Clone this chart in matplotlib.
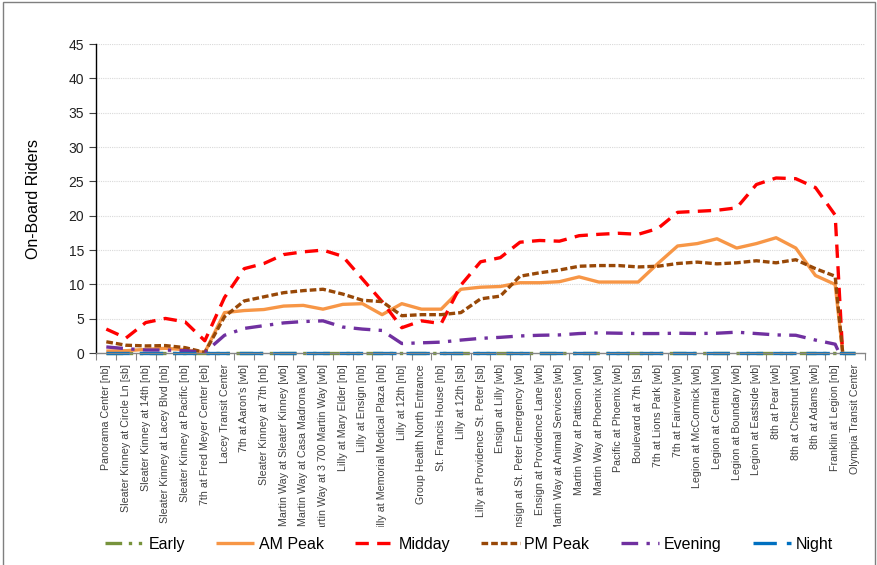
"""On-board riders by stop, one line per time period."""

import matplotlib

matplotlib.use("Agg")
import matplotlib.pyplot as plt
from matplotlib.patches import Rectangle
from matplotlib.transforms import Bbox, TransformedBbox

plt.rcParams["font.family"] = ["Liberation Sans", "DejaVu Sans"]

STOPS = [
    "Panorama Center [nb]",
    "Sleater Kinney at Circle Ln [sb]",
    "Sleater Kinney at 14th [nb]",
    "Sleater Kinney at Lacey Blvd [nb]",
    "Sleater Kinney at Pacific [nb]",
    "7th at Fred Meyer Center [eb]",
    "Lacey Transit Center",
    "7th at Aaron's [wb]",
    "Sleater Kinney at 7th [nb]",
    "Martin Way at Sleater Kinney [wb]",
    "Martin Way at Casa Madrona [wb]",
    "Martin Way at 3 700 Martin Way [wb]",
    "Lilly at Mary Elder [nb]",
    "Lilly at Ensign [nb]",
    "Lilly at Memorial Medical Plaza [nb]",
    "Lilly at 12th [nb]",
    "Group Health North Entrance",
    "St. Francis House [nb]",
    "Lilly at 12th [sb]",
    "Lilly at Providence St. Peter [sb]",
    "Ensign at Lilly [wb]",
    "Ensign at St. Peter Emergency [wb]",
    "Ensign at Providence Lane [wb]",
    "Martin Way at Animal Services [wb]",
    "Martin Way at Pattison [wb]",
    "Martin Way at Phoenix [wb]",
    "Pacific at Phoenix [wb]",
    "Boulevard at 7th [sb]",
    "7th at Lions Park [wb]",
    "7th at Fairview [wb]",
    "Legion at McCormick [wb]",
    "Legion at Central [wb]",
    "Legion at Boundary [wb]",
    "Legion at Eastside [wb]",
    "8th at Pear [wb]",
    "8th at Chestnut [wb]",
    "8th at Adams [wb]",
    "Franklin at Legion [nb]",
    "Olympia Transit Center",
]

# Olympia values fall below the axis (the lines hit zero before the last stop)
early = [0.0] * 39
am_peak = [0.3, 0.35, 0.55, 0.7, 0.5, 0.1, 5.9, 6.2, 6.35, 6.85, 6.95, 6.4, 7.1,
           7.2, 5.6, 7.2, 6.4, 6.4, 9.3, 9.6, 9.7, 10.25, 10.25, 10.4, 11.1,
           10.35, 10.35, 10.35, 13.05, 15.6, 15.95, 16.65, 15.3, 15.95, 16.8,
           15.3, 11.3, 10.0, -16.0]
midday = [3.5, 2.2, 4.45, 5.05, 4.55, 1.8, 8.1, 12.3, 13.05, 14.35, 14.75, 15.0,
          14.1, 10.8, 7.5, 3.7, 4.7, 4.3, 9.9, 13.3, 13.9, 16.15, 16.4, 16.3,
          17.1, 17.3, 17.45, 17.3, 18.15, 20.5, 20.65, 20.8, 21.15, 24.55, 25.5,
          25.4, 24.1, 20.1, -33.0]
pm_peak = [1.65, 1.15, 1.05, 1.1, 0.8, 0.1, 5.3, 7.6, 8.2, 8.8, 9.1, 9.3, 8.6,
           7.7, 7.5, 5.45, 5.6, 5.6, 5.9, 7.9, 8.3, 11.2, 11.7, 12.1, 12.65,
           12.75, 12.75, 12.55, 12.65, 13.05, 13.25, 13.0, 13.15, 13.45, 13.15,
           13.6, 12.3, 11.2, -18.0]
evening = [0.9, 0.65, 0.45, 0.45, 0.35, 0.1, 2.6, 3.6, 4.0, 4.4, 4.6, 4.7, 3.8,
           3.5, 3.3, 1.4, 1.5, 1.6, 1.9, 2.15, 2.3, 2.5, 2.6, 2.65, 2.85, 2.95,
           2.9, 2.85, 2.85, 2.9, 2.85, 2.9, 3.05, 2.85, 2.65, 2.6, 1.9, 1.3, -5.0]
night = [0.0] * 39

SERIES = [
    ("Early", early, "#77933C", (0, (5, 2, 1, 2, 1, 2))),
    ("AM Peak", am_peak, "#F79646", "-"),
    ("Midday", midday, "#FF0000", (0, (4, 2.5))),
    ("PM Peak", pm_peak, "#984807", (0, (2, 0.9))),
    ("Evening", evening, "#7030A0", (0, (5, 2.5, 1, 2.5))),
    ("Night", night, "#0070C0", (0, (7, 3))),
]

fig = plt.figure(figsize=(8.77, 5.65), dpi=100)
ax = fig.add_axes([0.110, 0.375, 0.876, 0.547])

x = list(range(len(STOPS)))
for name, values, color, style in SERIES:
    # lines sitting on zero are drawn at full width, like Excel does
    flat = min(values) >= 0 and max(values) == 0
    ax.plot(x, values, color=color, linestyle=style, linewidth=2.4, label=name,
            solid_capstyle="butt", dash_capstyle="butt", clip_on=not flat)

ax.set_xlim(-0.5, len(STOPS) - 0.5)
ax.set_ylim(0, 45)
ax.set_yticks(range(0, 50, 5))
ax.tick_params(axis="y", labelsize=10, length=5, width=0.8, pad=4,
               color="#404040", labelcolor="#222222")
ax.grid(axis="y", color="#D9D9D9", linestyle=(0, (1, 1)), linewidth=0.8)
ax.set_axisbelow(True)

ax.set_xticks(x)
ax.set_xticklabels(STOPS, rotation=90, fontsize=7.7, color="#404040")
ax.set_xticks([i - 0.5 for i in range(len(STOPS) + 1)], minor=True)
ax.tick_params(axis="x", which="major", length=0, pad=8)
ax.tick_params(axis="x", which="minor", length=5, width=0.8, color="#868686")

for side in ("top", "right"):
    ax.spines[side].set_visible(False)
ax.spines["left"].set_color("#000000")
ax.spines["left"].set_linewidth(1.0)
ax.spines["bottom"].set_color("#868686")
ax.spines["bottom"].set_linewidth(1.0)

ax.set_ylabel("On-Board Riders", fontsize=11.5, labelpad=20)

# stop names are cut off above the legend
clip = TransformedBbox(Bbox([[0, 0.067], [1, 1]]), fig.transFigure)
for label in ax.get_xticklabels():
    label.set_clip_box(clip)
    label.set_clip_on(True)

fig.legend(loc="center", bbox_to_anchor=(0.535, 0.037), ncol=6, frameon=False,
           fontsize=11.5, handlelength=2.4, handletextpad=0.3,
           columnspacing=1.95)

fig.add_artist(Rectangle((3 / 877, -0.02), 872 / 877, 1 - 2 / 565 + 0.02,
                         transform=fig.transFigure, fill=False,
                         edgecolor="#7F7F7F", linewidth=1.0))

fig.savefig("out.png", dpi=100)
